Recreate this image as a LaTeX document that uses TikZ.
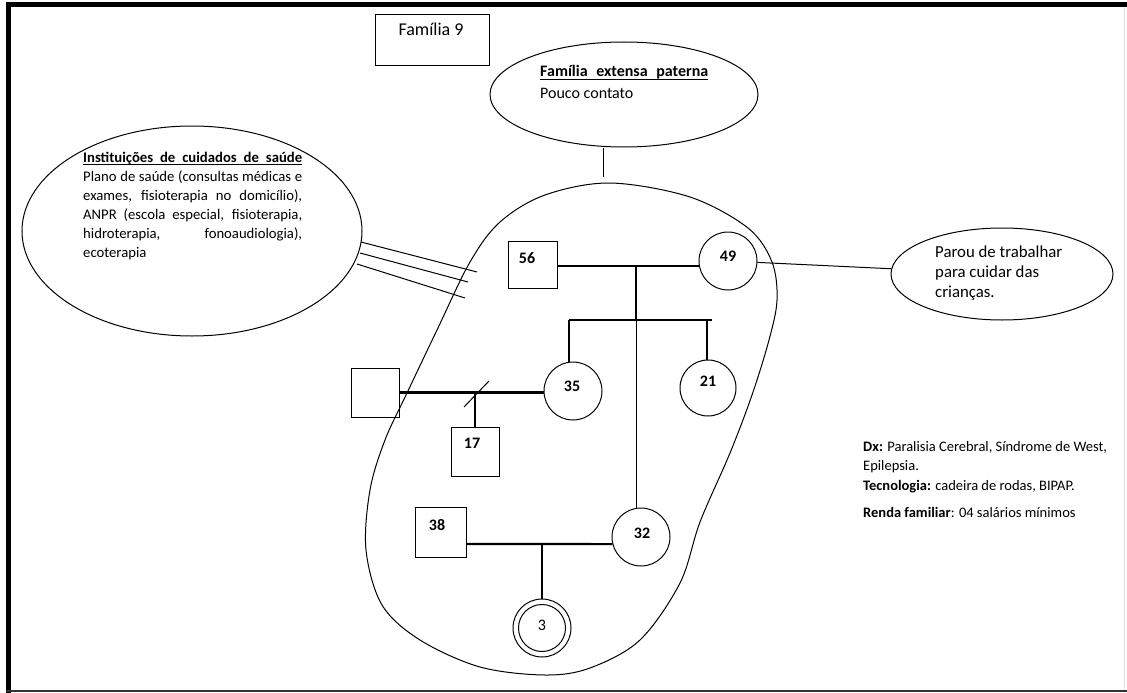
\documentclass[tikz,border=0pt]{standalone}
\usepackage{fontspec}
\setmainfont{Carlito}
\usetikzlibrary{shapes.geometric}
% underlined heading stretched to a fixed width
\newcommand{\ulhead}[2]{\rlap{\rule[-2.6pt]{#1}{0.9pt}}\makebox[#1][s]{\bfseries #2}}
\newcommand{\fullline}[2]{\makebox[#1][s]{#2}}
\begin{document}
\begin{tikzpicture}[x=1pt,y=-1pt,
  ln/.style={line width=1pt},
  bond/.style={line width=2.2pt},
  male/.style={draw, line width=1pt, rectangle, minimum width=48pt, minimum height=48pt, inner sep=0pt},
  female/.style={draw, line width=1pt, circle, minimum size=58pt, inner sep=0pt},
  num/.style={font=\fontsize{16}{18}\selectfont\bfseries, inner sep=0pt},
  oval/.style={draw, line width=1pt, ellipse, inner sep=0pt},
  txt/.style={anchor=base west, inner sep=0pt},
]
\useasboundingbox (0,0) rectangle (1127,693);
\fill[white] (0,0) rectangle (1127,693);

% page frame
\draw[line width=5pt] (6,4.5) -- (1127,4.5);
\draw[line width=5pt] (8.5,2) -- (8.5,693);
\draw[line width=2pt, black!80] (6,691) -- (1127,691);
\draw[line width=1pt, black!12] (1124,7) -- (1124,690);

% title box
\node[draw, line width=1pt, minimum width=114pt, minimum height=51pt, inner sep=0pt] (fam) at (432,40.5) {};
\node[anchor=base, inner sep=0pt, font=\fontsize{18}{22}\selectfont] (famt) at (431,36) {Família 9};

% paternal extended family
\node[oval, minimum width=268pt, minimum height=105pt] (pat) at (624,94.5) {};
\node[txt, font=\fontsize{16}{20}\selectfont] (pat1) at (540,77) {\ulhead{168pt}{Família extensa paterna}};
\node[txt, font=\fontsize{16}{20}\selectfont] (pat2) at (540,99) {Pouco contato};
\coordinate (patend) at (603,177);
\draw[ln] (patend |- pat.south) -- (patend);

% health care institutions
\node[oval, minimum width=340pt, minimum height=210pt] (hc) at (192,231) {};
\begin{scope}[every node/.style={txt, font=\fontsize{14.7}{19}\selectfont}]
\node (hc1) at (83,162) {\ulhead{219pt}{Instituições de cuidados de saúde}};
\node (hc2) at (83,181) {\fullline{219pt}{Plano de saúde (consultas médicas e}};
\node (hc3) at (83,200) {\fullline{219pt}{exames, fisioterapia no domicílio),}};
\node (hc4) at (83,219) {\fullline{219pt}{ANPR (escola especial, fisioterapia,}};
\node (hc5) at (83,238) {\fullline{219pt}{hidroterapia, fonoaudiologia),}};
\node (hc6) at (83,257) {ecoterapia};
\end{scope}

% household boundary
\draw[ln] plot[smooth cycle, tension=0.55] coordinates {
  (610,183) (690,197) (748,228) (772,262) (777,300) (769,340) (752,395)
  (730,453) (700,522) (680,583) (640,640) (590,668) (545,675) (480,667)
  (420,640) (382,605) (366,550) (370,490) (385,440) (407,393) (437,330)
  (470,262) (500,222) (545,195)};

% strong tie to the institutions
\coordinate (ta1) at (361,242); \coordinate (tb1) at (477,272);
\coordinate (ta2) at (360,253); \coordinate (tb2) at (468,282);
\coordinate (ta3) at (357,264); \coordinate (tb3) at (465,298);
\draw[ln] (ta1) -- (tb1);
\draw[ln] (ta2) -- (tb2);
\draw[ln] (ta3) -- (tb3);

% mother stopped working
\node[oval, minimum width=222pt, minimum height=92pt] (rp) at (1002,274) {};
\begin{scope}[every node/.style={txt, font=\fontsize{16.8}{20}\selectfont}]
\node (rp1) at (935,257) {Parou de trabalhar};
\node (rp2) at (935,277) {para cuidar das};
\node (rp3) at (935,297) {crianças.};
\end{scope}

% notes
\begin{scope}[every node/.style={txt, font=\fontsize{14.5}{20}\selectfont}]
\node (nt1) at (863,451) {\textbf{Dx:} Paralisia Cerebral, Síndrome de West,};
\node (nt2) at (863,470) {Epilepsia.};
\node (nt3) at (863,490) {\textbf{Tecnologia:} cadeira de rodas, BIPAP.};
\node (nt4) at (863,517) {\textbf{Renda familiar}: 04 salários mínimos};
\end{scope}

% pedigree: grandparents
\node[male, minimum width=49pt, minimum height=47pt] (n56) at (532.5,264.5) {};
\node[num] (l56) at (527,258) {56};
\node[female] (n49) at (728,261) {};
\node[num] (l49) at (728,256) {49};
\draw[ln] (n49) -- (rp);
\coordinate (m1) at (636,266);
\draw[bond] (n56.east |- m1) -- (n49.west |- m1);
\coordinate (sb) at (636,320);
\draw[bond] (m1) -- (sb);
\coordinate (sbl) at (569,320);
\coordinate (sbr) at (712,320);
\draw[bond] (sbl) -- (sbr);

% children
\node[female] (n35) at (573,391) {};
\node[num] (l35) at (572,386) {35};
\node[female, minimum size=56pt] (n21) at (708,388) {};
\node[num] (l21) at (708,381) {21};
\draw[line width=1.4pt] (sbl) -- (sbl |- n35.north);
\draw[line width=1.4pt] (707,320) -- (707,360);
\node[female] (n32) at (641,537) {};
\node[num] (l32) at (642,533) {32};
\draw[ln] (sb) -- (sb |- n32.north);

% first couple
\node[male, minimum height=49pt] (nU) at (375,392.5) {};
\draw[bond] (nU.east) -- (nU.east -| n35.west);
\coordinate (dv) at (476,392);
\draw[ln] (464,407) -- (489,381);
\node[male, minimum height=49pt] (n17) at (475,451.5) {};
\node[num] (l17) at (472,443) {17};
\draw[bond] (n17.north |- dv) -- (n17.north);

% second couple
\node[male, minimum width=51pt, minimum height=50pt] (n38) at (440.5,532) {};
\node[num] (l38) at (437,525) {38};
\coordinate (m3) at (542,544);
\draw[bond] (n38.east |- m3) -- (m3) -- (n32.194);
\node[draw, line width=1pt, circle, minimum size=58pt, inner sep=0pt] (n3) at (542,628) {};
\draw[ln] (n3) circle (23.5);
\node[inner sep=0pt, font=\fontsize{16}{18}\selectfont] (l3) at (542,625) {3};
\draw[bond] (m3) -- (n3.north);
\end{tikzpicture}
\end{document}
